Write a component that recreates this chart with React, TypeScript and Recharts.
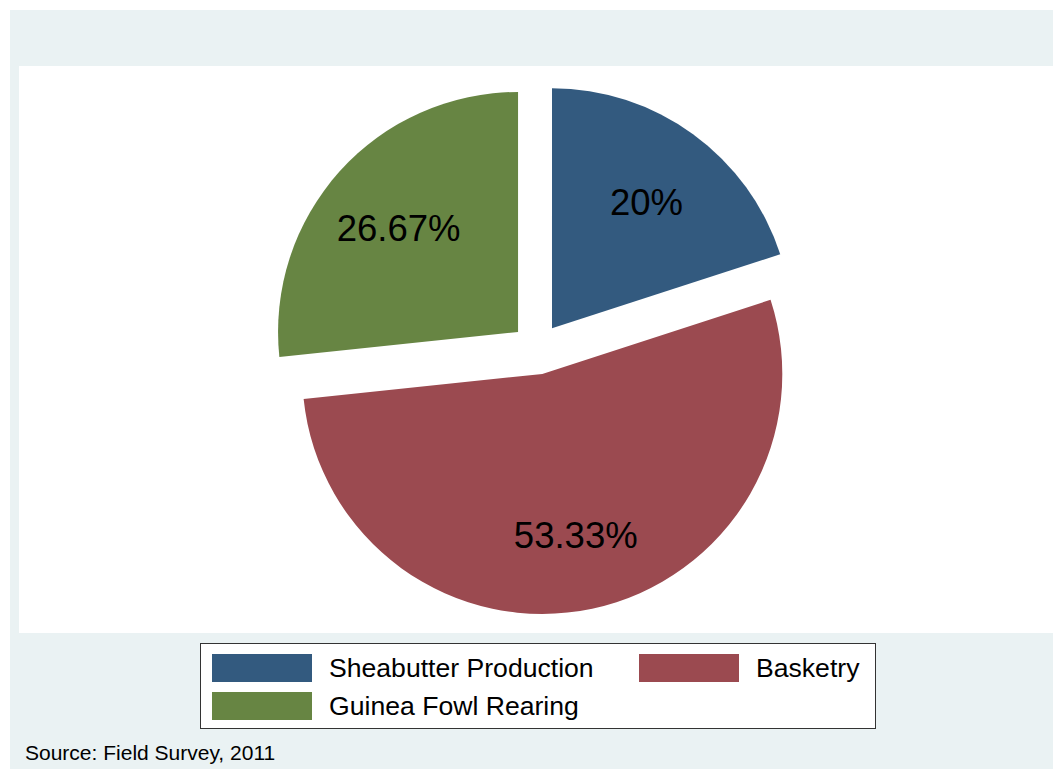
import React from "react";
import { PieChart, Pie, Cell, Sector } from "recharts";

const categories = ["Sheabutter Production", "Basketry", "Guinea Fowl Rearing"];
const shares = [20, 53.33, 26.67];
const shareLabels = ["20%", "53.33%", "26.67%"];
const colors = ["#335a7f", "#9b4a50", "#678543"];
const sourceNote = "Source: Field Survey, 2011";

const data = categories.map((name, i) => ({ name, value: shares[i], label: shareLabels[i] }));

const RAD = Math.PI / 180;
const EXPLODE = 25.5;
const FONT = '"Liberation Sans", Arial, Helvetica, sans-serif';

const ExplodedSector = (props: any) => {
  const { cx, cy, midAngle } = props;
  const dx = EXPLODE * Math.cos(-midAngle * RAD);
  const dy = EXPLODE * Math.sin(-midAngle * RAD);
  return <Sector {...props} cx={cx + dx} cy={cy + dy} stroke="none" />;
};

const renderLabel = (props: any) => {
  const { cx, cy, midAngle, outerRadius, index } = props;
  const r = EXPLODE + outerRadius * 0.67;
  const x = cx + r * Math.cos(-midAngle * RAD);
  const y = cy + r * Math.sin(-midAngle * RAD) + 4;
  return (
    <text
      x={x}
      y={y}
      textAnchor="middle"
      dominantBaseline="central"
      fill="#000"
      fontSize={36.5}
      fontFamily={FONT}
    >
      {data[index].label}
    </text>
  );
};

const legendPos = [
  { left: 11, top: 10 },
  { left: 438, top: 10 },
  { left: 11, top: 48 },
];

export default function App() {
  return (
    <div style={{ position: "absolute", left: 0, top: 0, width: 1053, height: 769, background: "#ffffff", overflow: "hidden" }}>
      <div style={{ position: "absolute", left: 10, top: 10, width: 1043, height: 759, background: "#eaf2f3" }} />
      <div style={{ position: "absolute", left: 19, top: 66, width: 1034, height: 567, background: "#ffffff" }} />
      <div style={{ position: "absolute", left: 0, top: 0 }}>
        <PieChart width={1053} height={769} margin={{ top: 0, right: 0, bottom: 0, left: 0 }}>
          <Pie
            data={data}
            dataKey="value"
            nameKey="name"
            cx={537}
            cy={349}
            outerRadius={240}
            innerRadius={0}
            startAngle={90}
            endAngle={-270}
            isAnimationActive={false}
            stroke="none"
            shape={ExplodedSector}
            activeShape={ExplodedSector}
            inactiveShape={ExplodedSector}
            label={renderLabel}
            labelLine={false}
          >
            {data.map((d, i) => (
              <Cell key={d.name} fill={colors[i]} />
            ))}
          </Pie>
        </PieChart>
      </div>
      <div
        style={{
          position: "absolute",
          left: 200,
          top: 643,
          width: 676,
          height: 86,
          boxSizing: "border-box",
          border: "1.5px solid #333",
          background: "#ffffff",
          fontFamily: FONT,
        }}
      >
        {categories.map((c, i) => (
          <div
            key={c}
            style={{
              position: "absolute",
              left: legendPos[i].left,
              top: legendPos[i].top,
              display: "flex",
              alignItems: "center",
              height: 28,
            }}
          >
            <div style={{ width: 100, height: 28, background: colors[i] }} />
            <span style={{ marginLeft: 17, fontSize: 26.6, lineHeight: "28px", color: "#000", whiteSpace: "nowrap" }}>{c}</span>
          </div>
        ))}
      </div>
      <div
        style={{
          position: "absolute",
          left: 25,
          top: 742,
          fontFamily: FONT,
          fontSize: 21,
          lineHeight: "21px",
          color: "#000",
          whiteSpace: "nowrap",
        }}
      >
        {sourceNote}
      </div>
    </div>
  );
}
